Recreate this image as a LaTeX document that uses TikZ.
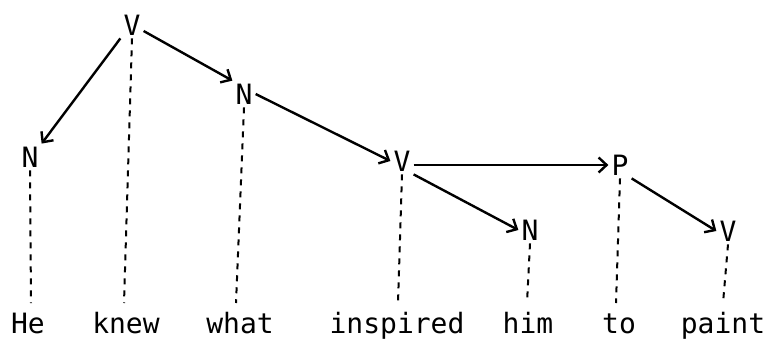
\documentclass[tikz,border=0pt]{standalone}
\usepackage{fontspec}
\setmonofont{DejaVu Sans Mono}
\usetikzlibrary{arrows.meta}
\begin{document}
\begin{tikzpicture}[x=1pt,y=-1pt,
  cat/.style={font=\ttfamily\fontsize{28}{28}\selectfont, inner sep=3pt, anchor=center},
  word/.style={font=\ttfamily\fontsize{28}{28}\selectfont, inner sep=0pt, anchor=base},
  dep/.style={line width=2.4pt, -{Straight Barb[length=8pt,width=15pt,line width=2.4pt]}},
  link/.style={line width=2pt, dash pattern=on 6pt off 6pt}]
\useasboundingbox (0,0) rectangle (767,341);
% category nodes
\node[cat] (v1) at (132,25) {V};
\node[cat] (n1) at (30,157) {N};
\node[cat] (n2) at (244,94) {N};
\node[cat] (v2) at (402,161) {V};
\node[cat] (p)  at (620,165) {P};
\node[cat] (n3) at (530,230) {N};
\node[cat] (v3) at (728,231) {V};
% words
\node[word] (w1) at (28,333) {He};
\node[word] (w2) at (126,333) {knew};
\node[word] (w3) at (240,333) {what};
\node[word] (w4) at (397,333) {inspired};
\node[word] (w5) at (528,333) {him};
\node[word] (w6) at (619,333) {to};
\node[word] (w7) at (723,333) {paint};
% word attachment points
\coordinate (t1) at (31,303);
\coordinate (t2) at (124,303);
\coordinate (t3) at (236,303);
\coordinate (t4) at (398,303);
\coordinate (t5) at (527,303);
\coordinate (t6) at (616,303);
\coordinate (t7) at (723,303);
% dependency arrows
\draw[dep] (v1.south west) -- (n1.north east);
\draw[dep] ([yshift=-6pt]v1.east) -- (n2.north west);
\draw[dep] (n2.east) -- (v2.west);
\draw[dep] (v2.east |- p.west) -- (p.west);
\draw[dep] (v2.south east) -- (n3.west);
\draw[dep] (p.south east) -- (v3.west);
% projection lines
\draw[link] (v1.south) -- (t2);
\draw[link] (n1.south) -- (t1);
\draw[link] (n2.south) -- (t3);
\draw[link] (v2.south) -- (t4);
\draw[link] (n3.south) -- (t5);
\draw[link] (p.south) -- (t6);
\draw[link] (v3.south) -- (t7);
\end{tikzpicture}
\end{document}
